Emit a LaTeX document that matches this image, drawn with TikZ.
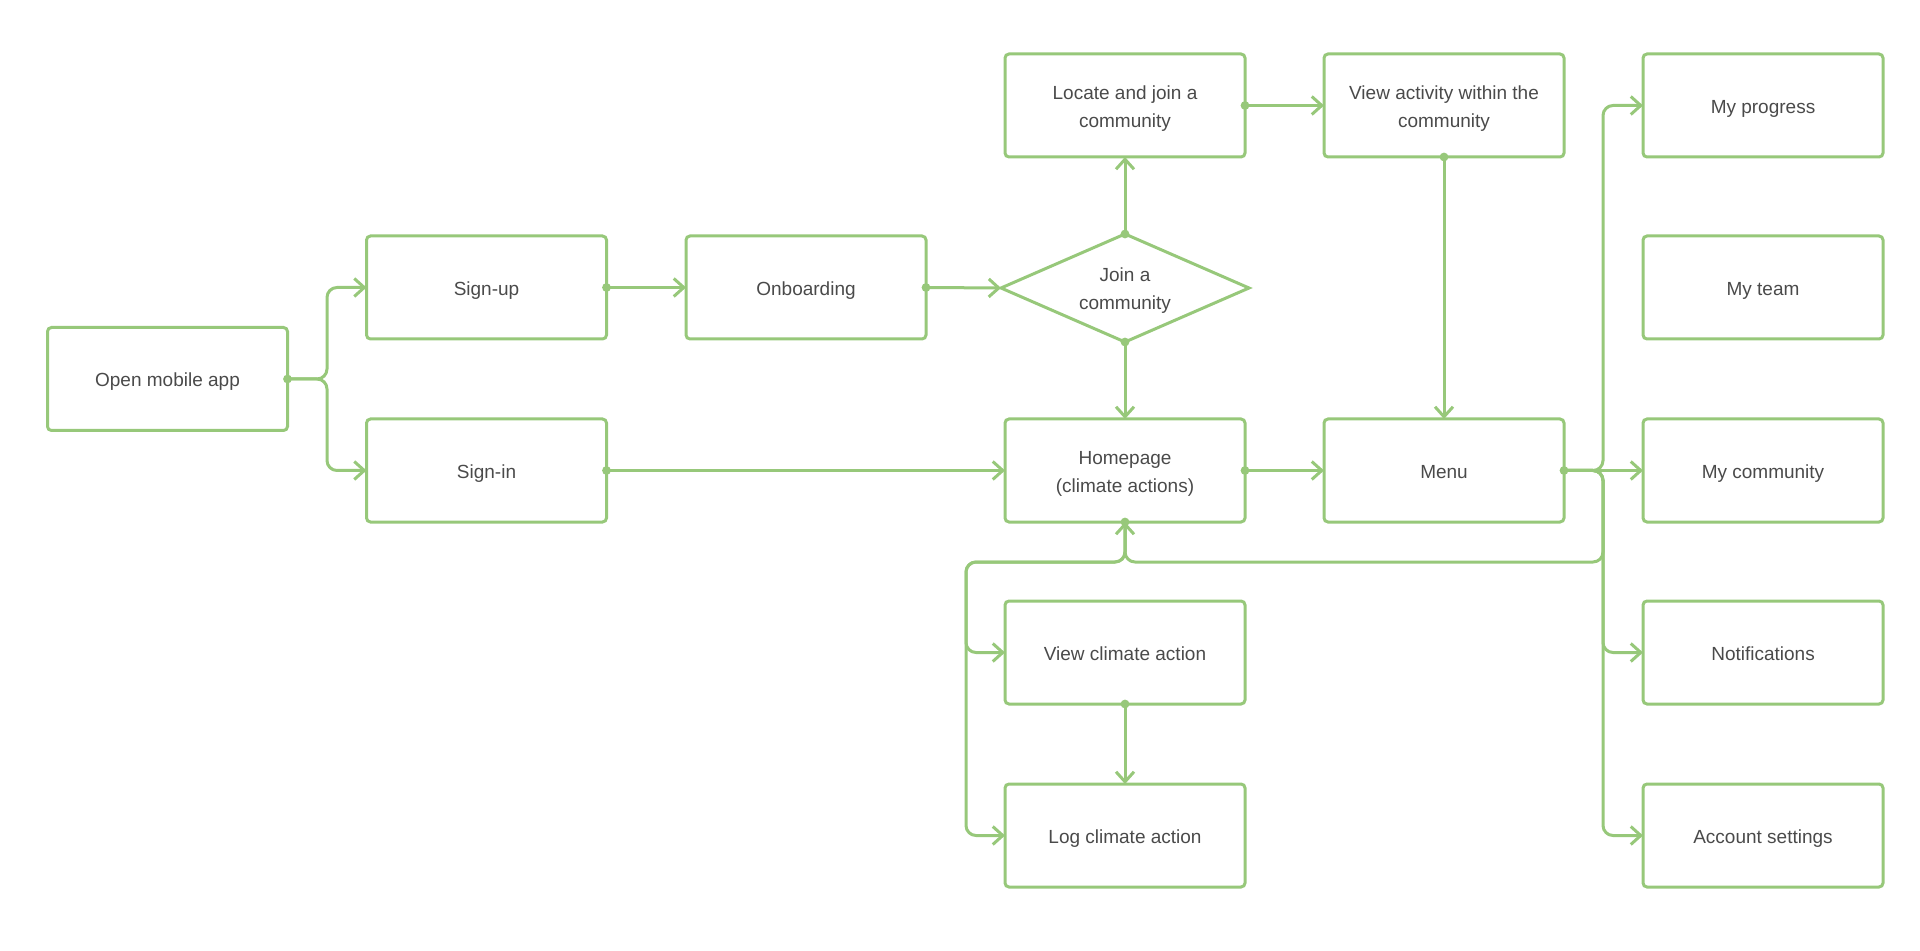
\documentclass[tikz,border=0pt]{standalone}
\usepackage{fontspec}
\setmainfont{Liberation Sans}
\usetikzlibrary{arrows.meta,shapes.geometric}
\definecolor{lg}{HTML}{97C87A}
\definecolor{tx}{HTML}{4A4A4A}
\tikzset{
  box/.style={draw=lg, line width=1.5pt, rounded corners=2pt, outer sep=0pt, minimum width=120pt, minimum height=51.5pt, inner sep=2pt, align=center, text=tx, font=\fontsize{9.5}{14}\selectfont},
  one/.style={text height=8.5pt, text depth=0.5pt},
  dia/.style={diamond, draw=lg, line width=1.5pt, outer sep=0pt, minimum width=124pt, minimum height=54pt, aspect=2.3, inner sep=0pt, align=center, text=tx, font=\fontsize{9.5}{14}\selectfont},
  conn/.style={draw=lg, line width=1.5pt, rounded corners=5pt, -{Straight Barb[length=5pt,width=9pt,line width=1.5pt]}}
}
\newcommand{\sdot}[1]{\fill[lg] (#1) circle (2.2pt);}
\newcommand{\tl}[2]{\rule{0pt}{9.5pt}#1\\#2}
\begin{document}
\begin{tikzpicture}[x=0.5pt,y=-0.5pt]
\useasboundingbox (0,0) rectangle (1920,951);
% nodes
\node[box,one] (open) at (167.5,379) {Open mobile app};
\node[box,one] (signup) at (486.5,287.5) {Sign-up};
\node[box,one] (signin) at (486.5,470.5) {Sign-in};
\node[box,one] (onb) at (806,287.5) {Onboarding};
\node[dia] (join) at (1125,288) {\tl{Join a}{community}};
\node[box] (locate) at (1125,105.5) {\tl{Locate and join a}{community}};
\node[box] (viewact) at (1444,105.5) {\tl{View activity within the}{community}};
\node[box] (home) at (1125,470.5) {\tl{Homepage}{(climate actions)}};
\node[box,one] (menu) at (1444,470.5) {Menu};
\node[box,one] (prog) at (1763,105.5) {My progress};
\node[box,one] (team) at (1763,287.5) {My team};
\node[box,one] (comm) at (1763,470.5) {My community};
\node[box,one] (notif) at (1763,652.5) {Notifications};
\node[box,one] (acct) at (1763,835.5) {Account settings};
\node[box,one] (viewca) at (1125,652.5) {View climate action};
\node[box,one] (logca) at (1125,835.5) {Log climate action};
% branch coordinates
\coordinate (b1) at (327,379);
\coordinate (b2) at (1603,470.5);
\coordinate (b3) at (1603,562);
\coordinate (h1) at (1125,562);
\coordinate (l1) at (966,562);
% connectors
\draw[conn] (open.east) -- (b1) |- (signup.west);
\draw[conn] (open.east) -- (b1) |- (signin.west);
\sdot{open.east}
\draw[conn] (signup.east) -- (onb.west); \sdot{signup.east}
\draw[conn] (onb.east) -- (join.west); \sdot{onb.east}
\draw[conn] (join.north) -- (locate.south); \sdot{join.north}
\draw[conn] (join.south) -- (home.north); \sdot{join.south}
\draw[conn] (locate.east) -- (viewact.west); \sdot{locate.east}
\draw[conn] (viewact.south) -- (menu.north); \sdot{viewact.south}
\draw[conn] (signin.east) -- (home.west); \sdot{signin.east}
\draw[conn] (home.east) -- (menu.west); \sdot{home.east}
\draw[conn] (menu.east) -- (b2) |- (prog.west);
\draw[conn] (menu.east) -- (comm.west);
\draw[conn] (menu.east) -- (b2) |- (notif.west);
\draw[conn] (menu.east) -- (b2) |- (acct.west);
\draw[conn] (menu.east) -- (b2) -- (b3) -- (h1) -- (home.south);
\sdot{menu.east}
\draw[conn] (home.south) -- (h1) -- (l1) |- (viewca.west);
\draw[conn] (home.south) -- (h1) -- (l1) |- (logca.west);
\sdot{home.south}
\draw[conn] (viewca.south) -- (logca.north); \sdot{viewca.south}
\end{tikzpicture}
\end{document}
